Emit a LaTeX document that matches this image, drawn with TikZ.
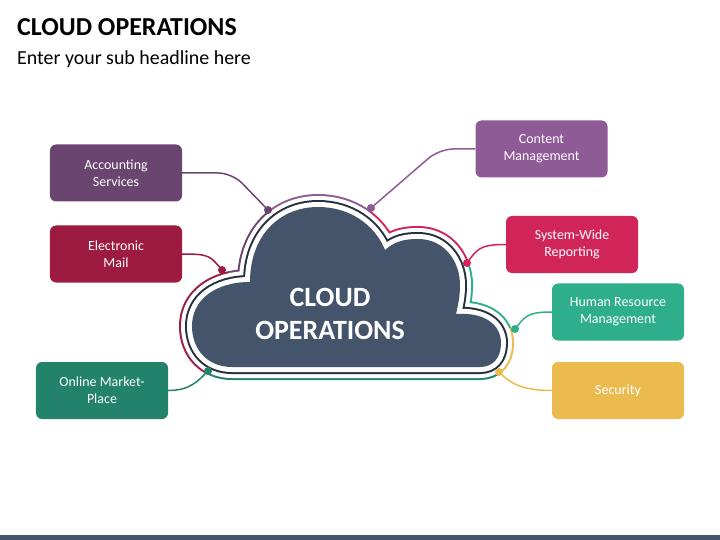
\documentclass[tikz,border=0pt]{standalone}
\usepackage{fontspec}
\setmainfont{Carlito}
\usepackage{tikz}
\usetikzlibrary{calc}
\definecolor{slate}{HTML}{44546A}
\definecolor{slatedark}{HTML}{27303F}
\definecolor{account}{HTML}{6A4570}
\definecolor{elmail}{HTML}{9D1A41}
\definecolor{content}{HTML}{8F5B97}
\definecolor{report}{HTML}{D12459}
\definecolor{hrcol}{HTML}{2FAE8B}
\definecolor{secur}{HTML}{EBBB4F}
\definecolor{online}{HTML}{22826A}
\tikzset{
  tbox/.style={rounded corners=6bp, align=center, text=white,
               font=\fontsize{14}{17}\selectfont, minimum width=132bp,
               minimum height=57bp, inner sep=2bp},
  link/.style={line width=1.5bp},
  pin/.style={circle, inner sep=0pt, minimum size=8bp},
}
\newcommand{\cloudshape}{(232,367) .. controls (208,367) and (192,350) .. (192,326)
  .. controls (192,300) and (215,282) .. (250,282)
  .. controls (250,235) and (280,207) .. (318,207)
  .. controls (350,207) and (375,225) .. (385,250)
  .. controls (395,241) and (405,239) .. (418,239)
  .. controls (445,239) and (460,262) .. (460,285)
  .. controls (460,297) and (458,305) .. (456,314)
  .. controls (485,312) and (501,325) .. (501,343)
  .. controls (501,358) and (493,367) .. (480,367) -- cycle}

\begin{document}
\begin{tikzpicture}[x=1bp, y=-1bp]
  \useasboundingbox (0,0) rectangle (720,540);
  \fill[slate] (0,535) rectangle (720,540);

  \node[anchor=base west, inner sep=0pt, font=\bfseries\fontsize{26}{30}\selectfont] (title) at (17,36) {CLOUD OPERATIONS};
  \node[anchor=base west, inner sep=0pt, font=\fontsize{20}{24}\selectfont] (subtitle) at (17,65) {Enter your sub headline here};

  \coordinate (ctr) at (345,310);
  \coordinate (dacc) at (268,210);
  \coordinate (dcont) at (371,208);
  \coordinate (drep) at (467,263);
  \coordinate (dhr) at (515,329);
  \coordinate (dsec) at (499,372);
  \coordinate (donl) at (208,371);
  \coordinate (delec) at (222,270);

  \foreach \a/\b/\c in {dacc/dcont/content, dcont/drep/report, drep/dhr/hrcol,
                        dhr/dsec/secur, dsec/donl/online, donl/delec/elmail,
                        delec/dacc/account}{
    \begin{scope}
      \clip (ctr) -- ($(ctr)!6!(\a)$) -- ($(ctr)!6!(\b)$) -- cycle;
      \draw[\c, line width=26bp] \cloudshape;
    \end{scope}
  }
  \draw[white, line width=22bp] \cloudshape;
  \draw[slatedark, line width=14bp] \cloudshape;
  \draw[white, line width=10bp] \cloudshape;
  \fill[slate] \cloudshape;
  \node[align=center, text=white, font=\bfseries\fontsize{28}{33}\selectfont] (cloud) at (330,314) {CLOUD\\OPERATIONS};

  \node[tbox, fill=account] (acc) at (116,173) {Accounting\\Services};
  \node[tbox, fill=elmail] (elec) at (116,254) {Electronic\\Mail};
  \node[tbox, fill=content] (cont) at (541.5,149) {Content\\Management};
  \node[tbox, fill=report] (rep) at (572,244.5) {System-Wide\\Reporting};
  \node[tbox, fill=hrcol] (hr) at (618,312) {Human Resource\\Management};
  \node[tbox, fill=secur] (sec) at (618,390.5) {Security};
  \node[tbox, fill=online] (onl) at (102,390.5) {Online Market-\\Place};

  \draw[link, account, rounded corners=14bp] (acc.east) -- ++(50,0) -- (dacc);
  \draw[link, content, rounded corners=14bp] (cont.west) -- ++(-36,0) -- (dcont);
  \draw[link, elmail] (elec.east) .. controls +(28,0) and +(-12,-14) .. (delec);
  \draw[link, report] (rep.west) .. controls +(-26,0) and +(10,-14) .. (drep);
  \draw[link, hrcol] (hr.west) .. controls +(-26,0) and +(10,-12) .. (dhr);
  \draw[link, secur] (sec.west) .. controls +(-32,0) and +(10,10) .. (dsec);
  \draw[link, online] (onl.east) .. controls +(22,0) and +(-10,10) .. (donl);

  \node[pin, fill=account] (pacc) at (dacc) {};
  \node[pin, fill=content] (pcont) at (dcont) {};
  \node[pin, fill=report] (prep) at (drep) {};
  \node[pin, fill=hrcol] (phr) at (dhr) {};
  \node[pin, fill=secur] (psec) at (dsec) {};
  \node[pin, fill=online] (ponl) at (donl) {};
  \node[pin, fill=elmail] (pelec) at (delec) {};
\end{tikzpicture}
\end{document}
